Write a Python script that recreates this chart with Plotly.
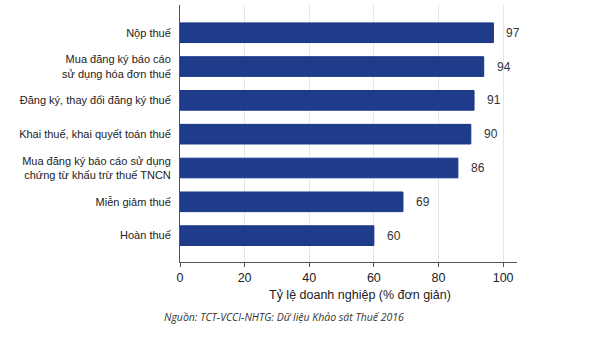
import plotly.graph_objects as go

categories = [
    "Nộp thuế",
    "Mua đăng ký báo cáo<br>sử dụng hóa đơn thuế",
    "Đăng ký, thay đổi đăng ký thuế",
    "Khai thuế, khai quyết toán thuế",
    "Mua đăng ký báo cáo sử dụng<br>chứng từ khấu trừ thuế TNCN",
    "Miễn giảm thuế",
    "Hoàn thuế",
]
values = [97, 94, 91, 90, 86, 69, 60]
x_ticks = [0, 20, 40, 60, 80, 100]
x_title = "Tỷ lệ doanh nghiệp (% đơn giản)"
source = "Nguồn: TCT-VCCI-NHTG: Dữ liệu Khảo sát Thuế 2016"

FONT = "Liberation Sans, Arial, sans-serif"
W, H = 600, 354
L, R, T, B = 180, 83, 5, 92
pw, ph = W - L - R, H - T - B

def px2paper(px, py):
    return (px - L) / pw, (H - B - py) / ph

fig = go.Figure()
fig.add_trace(go.Bar(
    x=values, y=categories, orientation="h",
    marker=dict(color="#1e3c89", line=dict(color="#16338a", width=1)),
    width=0.58,
    hoverinfo="x+y",
))
for v, c in zip(values, categories):
    fig.add_annotation(x=v, y=c, text=str(v), showarrow=False,
                       xanchor="left", xshift=11,
                       font=dict(family=FONT, size=12, color="#333"))

tx, ty = px2paper(360, 295)
fig.add_annotation(x=tx, y=ty, xref="paper", yref="paper", text=x_title,
                   xanchor="center", yanchor="middle",
                   showarrow=False, font=dict(family=FONT, size=12.5, color="#222"))
sx, sy = px2paper(284, 317)
fig.add_annotation(x=sx, y=sy, xref="paper", yref="paper", text="<i>" + source + "</i>",
                   xanchor="center", yanchor="middle", showarrow=False,
                   font=dict(family="Open Sans, sans-serif", size=10.5, color="#333"))

fig.update_layout(
    width=W, height=H,
    margin=dict(l=L, r=R, t=T, b=B, pad=0),
    plot_bgcolor="white", paper_bgcolor="white",
    showlegend=False,
    font=dict(family=FONT, size=11, color="#222"),
    xaxis=dict(range=[0, 104.3], tickvals=x_ticks, showgrid=True,
               gridcolor="#e6e6e6", gridwidth=1, zeroline=False,
               showline=True, linecolor="#555", linewidth=1,
               ticks="outside", ticklen=4, tickcolor="#555",
               tickfont=dict(family=FONT, size=12.5, color="#222")),
    yaxis=dict(type="category", range=[6.78, -0.82], showgrid=False,
               showline=True, linecolor="#555", linewidth=1,
               ticks="", ticklabelstandoff=6,
               tickfont=dict(family=FONT, size=11, color="#222")),
)
fig.write_html("out.html")
